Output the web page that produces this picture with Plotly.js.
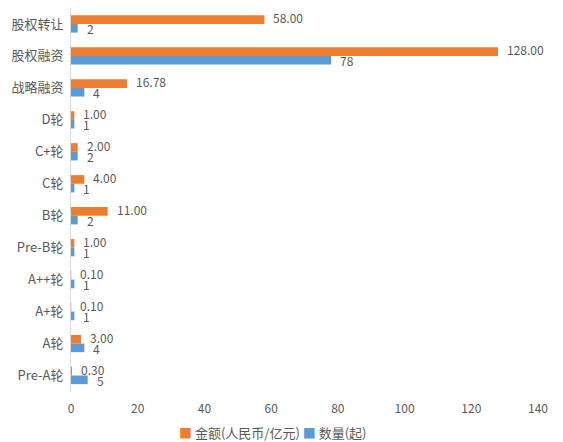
<!DOCTYPE html>
<html><head><meta charset="utf-8">
<script src="https://cdn.plot.ly/plotly-3.0.1.min.js"></script>
<style>html,body{margin:0;padding:0;background:#fff}#chart{width:563px;height:442px}</style>
</head><body><div id="chart"></div>
<script>
const categories = ['股权转让','股权融资','战略融资','D轮','C+轮','C轮','B轮','Pre-B轮','A++轮','A+轮','A轮','Pre-A轮'];
const amounts = [58.00,128.00,16.78,1.00,2.00,4.00,11.00,1.00,0.10,0.10,3.00,0.30];
const counts = [2,78,4,1,2,1,2,1,1,1,4,5];
const seriesNames = ['金额(人民币/亿元)','数量(起)'];
const seriesColors = ['#ED7D31','#5B9BD5'];
const xTicks = [0,20,40,60,80,100,120,140];

const fontFam = '"Noto Sans CJK SC", "Noto Sans", sans-serif';
const traces = [
  {type:'bar', orientation:'h', name:seriesNames[0], y:categories, x:amounts,
   marker:{color:seriesColors[0]}, hoverinfo:'none'},
  {type:'bar', orientation:'h', name:seriesNames[1], y:categories, x:counts,
   marker:{color:seriesColors[1]}, hoverinfo:'none'}
];
const annotations = [];
categories.forEach((c, i) => {
  annotations.push({x:amounts[i], y:c, xref:'x', yref:'y', text:amounts[i].toFixed(2),
    showarrow:false, xanchor:'left', yanchor:'middle', xshift:7, yshift:6,
    font:{size:12, color:'#595959', family:fontFam}});
  annotations.push({x:counts[i], y:c, xref:'x', yref:'y', text:String(counts[i]),
    showarrow:false, xanchor:'left', yanchor:'middle', xshift:7, yshift:-5,
    font:{size:12, color:'#595959', family:fontFam}});
});
annotations.push({xref:'paper', yref:'paper', x:(272-71)/467, y:-(432-392)/384,
  xanchor:'center', yanchor:'middle', showarrow:false,
  text:'<span style="color:'+seriesColors[0]+'">■</span> '+seriesNames[0]+' <span style="color:'+seriesColors[1]+'">■</span> '+seriesNames[1],
  font:{size:13, color:'#595959', family:fontFam}});

const layout = {
  width:563, height:442, margin:{l:71, r:25, t:8, b:50},
  paper_bgcolor:'#fff', plot_bgcolor:'#fff',
  barmode:'group', bargap:0.46, bargroupgap:0,
  font:{family:fontFam, color:'#595959', size:12},
  xaxis:{range:[0,140], tickvals:xTicks, showgrid:false, zeroline:false, showline:false,
         ticks:'', ticklabelstandoff:8, tickfont:{size:12, color:'#595959'}, fixedrange:true},
  yaxis:{type:'category', autorange:'reversed', showgrid:false, zeroline:false,
         showline:true, linecolor:'#d9d9d9', linewidth:1, ticks:'', ticklen:0, ticklabelstandoff:4,
         tickfont:{size:13, color:'#595959'}, fixedrange:true},
  showlegend:false,
  annotations: annotations
};
Plotly.newPlot('chart', traces, layout, {displayModeBar:false, staticPlot:true});
</script></body></html>
